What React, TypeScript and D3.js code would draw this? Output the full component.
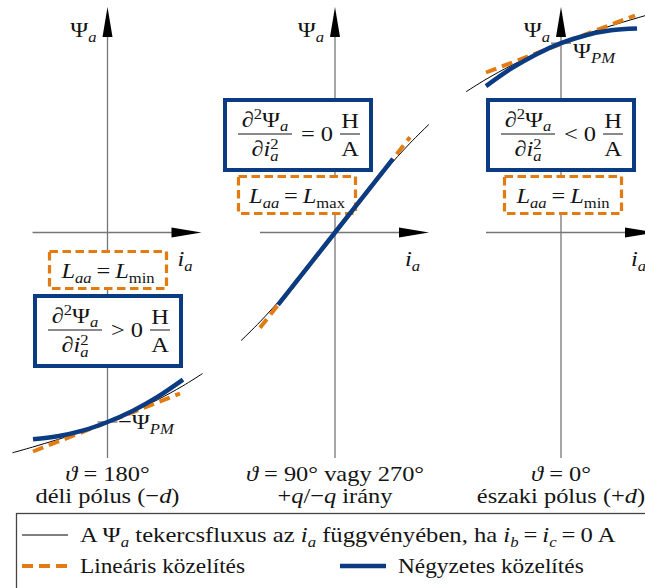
import React from 'react';
import * as d3 from 'd3';

const W = 645;
const H = 588;
const BLUE = '#0b3b82';
const ORANGE = '#e27b12';
const AXIS = '#767676';
const INK = '#141414';
const FONT = '"Liberation Serif", "DejaVu Serif", serif';
const SX = 1.11;

// Flux linkage Psi_a against phase current i_a for the three rotor positions
// South pole (theta = 180°)
const southI = [-0.95, -0.75, -0.5, -0.25, 0, 0.25, 0.5, 0.75, 0.95];
const southPsi = [-2.203, -2.146, -2.071, -1.989, -1.895, -1.793, -1.673, -1.536, -1.411];
const southQuadI = [-0.745, -0.5, -0.25, 0, 0.25, 0.5, 0.755];
const southQuadPsi = [-2.067, -2.038, -1.982, -1.895, -1.784, -1.644, -1.471];
const southLinI = [-0.745, 0.725];
const southLinPsi = [-2.19, -1.61];

// q axis (theta = 90° or 270°)
const qI = [-0.94, -0.75, -0.5, -0.25, 0, 0.25, 0.5, 0.75, 0.94];
const qPsi = [-1.082, -0.893, -0.617, -0.315, 0, 0.315, 0.617, 0.893, 1.082];
const qQuadI = [-0.57, 0, 0.58];
const qQuadPsi = [-0.724, 0, 0.737];
const qLinI = [-0.75, 0.75];
const qLinPsi = [-0.953, 0.953];

// North pole (theta = 0°)
const northI = [-0.95, -0.75, -0.5, -0.25, 0, 0.25, 0.5, 0.75, 0.9];
const northPsi = [1.407, 1.532, 1.669, 1.789, 1.893, 1.985, 2.067, 2.142, 2.185];
const northQuadI = [-0.75, -0.5, -0.25, 0, 0.25, 0.5, 0.76];
const northQuadPsi = [1.464, 1.638, 1.781, 1.893, 1.973, 2.022, 2.04];
const northLinI = [-0.75, 0.74];
const northLinPsi = [1.6, 2.17];

// Permanent-magnet flux at i_a = 0 (0 where there is none)
const pmPsi = [-1.895, 0, 1.893];

const relations = ['>', '=', '<'];
const inductanceSub = ['min', 'max', 'min'];
const angleLabels = ['180°', '90° vagy 270°', '0°'];

type Seg = { t: string; it?: boolean; sub?: boolean; sup?: boolean; dx?: number };

const poleLabels: Seg[][] = [
  [{ t: 'déli pólus (−' }, { t: 'd', it: true }, { t: ')' }],
  [{ t: '+' }, { t: 'q', it: true }, { t: '/−' }, { t: 'q', it: true }, { t: ' irány' }],
  [{ t: 'északi pólus (+' }, { t: 'd', it: true }, { t: ')' }],
];

const panels = [
  { ox: 107.5, black: [southI, southPsi], quad: [southQuadI, southQuadPsi], lin: [southLinI, southLinPsi],
    blueBox: { x: 35, y: 296 }, orangeBox: { x: 49.5, y: 251.5 }, pmLabel: { x: 118, y: 429, minus: true } },
  { ox: 335, black: [qI, qPsi], quad: [qQuadI, qQuadPsi], lin: [qLinI, qLinPsi],
    blueBox: { x: 225, y: 100 }, orangeBox: { x: 238.5, y: 176.5 }, pmLabel: null },
  { ox: 561, black: [northI, northPsi], quad: [northQuadI, northQuadPsi], lin: [northLinI, northLinPsi],
    blueBox: { x: 488, y: 100 }, orangeBox: { x: 504.5, y: 176.5 }, pmLabel: { x: 573, y: 58, minus: false } },
];

const OY = 232.5;
const BLUE_W = 146;
const BLUE_H = 70;
const OR_W = 117;
const OR_H = 37;

function Rich({ x, y, segs, anchor = 'start', size = 22, fill = INK, sx = SX, subShift = 5, supShift = -8 }: {
  x: number; y: number; segs: Seg[]; anchor?: string; size?: number; fill?: string; sx?: number;
  subShift?: number; supShift?: number;
}) {
  let cur = 0;
  return (
    <g transform={`translate(${x},${y}) scale(${sx},1)`}>
      <text textAnchor={anchor} fontFamily={FONT} fontSize={size} fill={fill} style={{ whiteSpace: 'pre' }}>
        {segs.map((s, k) => {
          const target = s.sub ? subShift : s.sup ? supShift : 0;
          const dy = target - cur;
          cur = target;
          return (
            <tspan key={k} dy={dy || undefined} dx={s.dx}
              fontStyle={s.it ? 'italic' : undefined}
              fontSize={s.sub || s.sup ? size * 0.68 : undefined}>{s.t}</tspan>
          );
        })}
      </text>
    </g>
  );
}

function Panel({ p, idx }: { p: typeof panels[number]; idx: number }) {
  const x = d3.scaleLinear().domain([-1, 1]).range([p.ox - 100, p.ox + 100]);
  const y = d3.scaleLinear().domain([-1, 1]).range([OY + 100, OY - 100]);
  const path = (is: number[], ps: number[]) =>
    d3.line<[number, number]>()
      .x(d => x(d[0]))
      .y(d => y(d[1]))
      .curve(d3.curveCatmullRom)(is.map((v, k) => [v, ps[k]] as [number, number])) || '';

  const xl = x(-0.75), xt = x(0.94);
  const yb = y(-2.255), yt = y(2.255);
  const bb = p.blueBox, ob = p.orangeBox;
  const fracC = bb.x + 40;
  const huC = bb.x + 125;
  const pm = pmPsi[idx];

  return (
    <g>
      {/* axes */}
      <line x1={xl} x2={xt - 20} y1={OY} y2={OY} stroke={AXIS} strokeWidth={1.3} />
      <polygon points={`${xt},${OY} ${xt - 30},${OY - 5} ${xt - 30},${OY + 5}`} fill="#000" />
      <line x1={p.ox} x2={p.ox} y1={yb} y2={yt + 20} stroke={AXIS} strokeWidth={1.3} />
      <polygon points={`${p.ox},${yt} ${p.ox - 5},${yt + 30} ${p.ox + 5},${yt + 30}`} fill="#000" />
      {pm !== 0 && (
        <line x1={p.ox - 10} x2={p.ox + 10} y1={y(pm)} y2={y(pm)} stroke={AXIS} strokeWidth={1.3} />
      )}

      {/* boxes */}
      <rect x={bb.x} y={bb.y} width={BLUE_W} height={BLUE_H} fill="#fff" stroke={BLUE} strokeWidth={4} />
      <rect x={ob.x} y={ob.y} width={OR_W} height={OR_H} fill="#fff" stroke={ORANGE} strokeWidth={3.2}
        strokeDasharray="8.5,4.5" />

      {/* curves */}
      <path d={path(p.black[0], p.black[1])} fill="none" stroke="#000" strokeWidth={1} />
      <path d={path(p.lin[0], p.lin[1])} fill="none" stroke={ORANGE} strokeWidth={4} strokeDasharray="11,6" />
      <path d={path(p.quad[0], p.quad[1])} fill="none" stroke={BLUE} strokeWidth={4.5} />

      {/* axis labels */}
      <Rich x={p.ox - 11} y={37} anchor="end" segs={[{ t: 'Ψ' }, { t: 'a', it: true, sub: true }]} />
      <Rich x={p.ox + 70} y={266} segs={[{ t: 'i', it: true }, { t: 'a', it: true, sub: true }]} />
      {p.pmLabel && (
        <Rich x={p.pmLabel.x} y={p.pmLabel.y}
          segs={[{ t: p.pmLabel.minus ? '−Ψ' : 'Ψ' }, { t: 'PM', it: true, sub: true }]} />
      )}

      {/* second derivative condition */}
      <Rich x={fracC} y={bb.y + 27} anchor="middle" subShift={4}
        segs={[{ t: '∂' }, { t: '2', sup: true }, { t: 'Ψ' }, { t: 'a', it: true, sub: true }]} />
      <line x1={bb.x + 13} x2={bb.x + 67} y1={bb.y + 34} y2={bb.y + 34} stroke={INK} strokeWidth={1} />
      <Rich x={fracC} y={bb.y + 56} anchor="middle" supShift={-7} subShift={5}
        segs={[{ t: '∂' }, { t: 'i', it: true }, { t: '2', sup: true }, { t: 'a', it: true, sub: true, dx: -7.5 }]} />
      <Rich x={bb.x + 76} y={bb.y + 41} segs={[{ t: `${relations[idx]} 0` }]} />
      <Rich x={huC} y={bb.y + 28} anchor="middle" segs={[{ t: 'H' }]} />
      <line x1={huC - 10} x2={huC + 10} y1={bb.y + 34} y2={bb.y + 34} stroke={INK} strokeWidth={1} />
      <Rich x={huC} y={bb.y + 56} anchor="middle" segs={[{ t: 'A' }]} />

      {/* inductance */}
      <Rich x={ob.x + OR_W / 2} y={ob.y + 26} anchor="middle"
        segs={[{ t: 'L', it: true }, { t: 'aa', it: true, sub: true }, { t: '\u2009=\u2009' },
          { t: 'L', it: true }, { t: inductanceSub[idx], sub: true }]} />

      {/* position captions */}
      <Rich x={p.ox} y={481} anchor="middle" segs={[{ t: 'ϑ', it: true }, { t: ` = ${angleLabels[idx]}` }]} />
      <Rich x={p.ox} y={503} anchor="middle" segs={poleLabels[idx]} />
    </g>
  );
}

export default function App() {
  return (
    <svg width={W} height={H} viewBox={`0 0 ${W} ${H}`}
      style={{ position: 'absolute', left: 0, top: 0, background: '#fff' }}>
      <rect width={W} height={H} fill="#fff" />
      {panels.map((p, k) => <Panel key={k} p={p} idx={k} />)}

      {/* legend */}
      <rect x={16.5} y={513.5} width={700} height={100} fill="none" stroke="#444" strokeWidth={1.3} />
      <line x1={22} x2={68} y1={535} y2={535} stroke="#000" strokeWidth={1} />
      <Rich x={80} y={542} sx={1.12} segs={[
        { t: 'A ' }, { t: 'Ψ' }, { t: 'a', it: true, sub: true }, { t: ' tekercsfluxus az ' },
        { t: 'i', it: true }, { t: 'a', it: true, sub: true }, { t: ' függvényében, ha ' },
        { t: 'i', it: true }, { t: 'b', it: true, sub: true }, { t: '\u2009=\u2009' },
        { t: 'i', it: true }, { t: 'c', it: true, sub: true }, { t: '\u2009=\u20090\u2009A' },
      ]} />
      <line x1={22} x2={68} y1={566} y2={566} stroke={ORANGE} strokeWidth={4} strokeDasharray="11,6" />
      <Rich x={80} y={573} sx={1.06} segs={[{ t: 'Lineáris közelítés' }]} />
      <line x1={340} x2={386} y1={566} y2={566} stroke={BLUE} strokeWidth={4.5} />
      <Rich x={398} y={573} sx={1.06} segs={[{ t: 'Négyzetes közelítés' }]} />
    </svg>
  );
}
